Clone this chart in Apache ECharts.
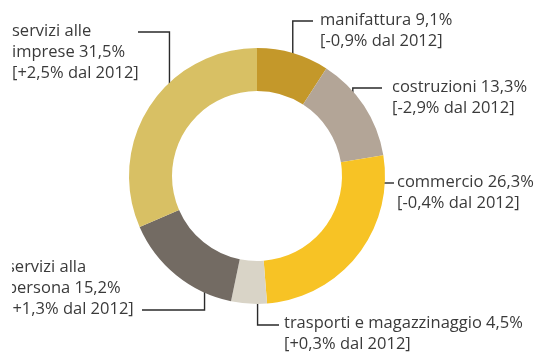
<!DOCTYPE html>
<html>
<head>
<meta charset="utf-8">
<script src="https://cdn.jsdelivr.net/npm/echarts@6/dist/echarts.min.js"></script>
<style>
    html, body { margin: 0; padding: 0; background: #fff; }
    #chart { width: 540px; height: 352px; }
</style>
</head>
<body>
<div id="chart"></div>
<script>
    // settori (quota 2013 e variazione sul 2012)
    const sectors = ['manifattura', 'costruzioni', 'commercio', 'trasporti e magazzinaggio', 'servizi alla\npersona', 'servizi alle\nimprese']
    const shares = [9.1, 13.3, 26.3, 4.5, 15.2, 31.5]
    const changes = ['-0,9', '-2,9', '-0,4', '+0,3', '+1,3', '+2,5']
    const colors = ['#c4982a', '#b3a597', '#f7c325', '#d9d4c7', '#736b63', '#d8c064']

    // posizione delle etichette (in px) e linee di richiamo
    const cx = 257, cy = 176
    const anchorR = 111
    const labelBoxes = [
        { x: 320, y: 10, lineY: 21, endX: 313, nudge: 2.4 },
        { x: 392, y: 77, lineY: 88, endX: 382, nudge: 2.9 },
        { x: 397, y: 172, lineY: 183, endX: 394, horiz: true },
        { x: 284, y: 313, lineY: 325, endX: 279, nudge: -3.9 },
        { x: 7, y: 257, lineY: 310, endX: 142, nudge: -10.9 },
        { x: 12, y: 21, lineY: 32, endX: 138, nudge: 4.7 }
    ]

    const total = shares.reduce((a, b) => a + b, 0)
    const midAngles = []
    let acc = 0
    shares.forEach(v => {
        midAngles.push((acc + v / 2) / total * 360)
        acc += v
    })

    function linePoints(i) {
        const b = labelBoxes[i]
        if (b.horiz) {
            const dy = b.lineY - cy
            const ax = cx + Math.sqrt(107 * 107 - dy * dy)
            return [[ax, b.lineY], [(ax + b.endX) / 2, b.lineY], [b.endX, b.lineY]]
        }
        const a = (midAngles[i] + b.nudge) * Math.PI / 180
        const ax = cx + anchorR * Math.sin(a)
        const ay = cy - anchorR * Math.cos(a)
        return [[ax, ay], [ax, b.lineY], [b.endX, b.lineY]]
    }

    let myChart = echarts.init(document.getElementById('chart'))
    myChart.setOption({
        animation: false,
        color: colors,
        graphic: [{
            // il bordo sinistro dell'immagine taglia l'etichetta
            type: 'rect',
            left: 0,
            top: 0,
            z: 100,
            shape: { width: 12, height: 352 },
            style: { fill: '#fff' }
        }],
        series: [{
            type: 'pie',
            center: [cx, cy],
            radius: [85, 128],
            startAngle: 90,
            silent: true,
            avoidLabelOverlap: false,
            data: sectors.map((name, i) => ({ name: name, value: shares[i] })),
            label: {
                show: true,
                position: 'outside',
                overflow: 'none',
                color: '#3a3a3a',
                fontFamily: 'Open Sans',
                fontSize: 16.5,
                lineHeight: 21,
                formatter: p => p.name + ' ' + shares[p.dataIndex].toFixed(1).replace('.', ',') + '%\n[' + changes[p.dataIndex] + '% dal 2012]'
            },
            labelLine: {
                show: true,
                lineStyle: { color: '#2a2a2a', width: 1.4 }
            },
            labelLayout: function (params) {
                const b = labelBoxes[params.dataIndex]
                return {
                    x: b.x,
                    y: b.y,
                    align: 'left',
                    verticalAlign: 'top',
                    labelLinePoints: linePoints(params.dataIndex)
                }
            }
        }]
    })
</script>
</body>
</html>
